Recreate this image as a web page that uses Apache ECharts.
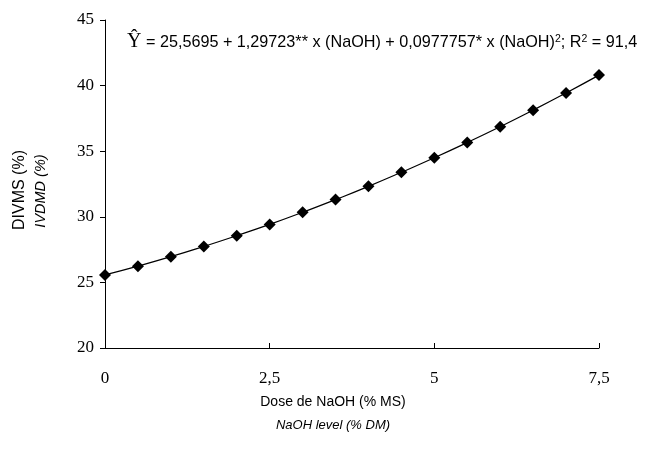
<!DOCTYPE html>
<html style="height: 100%">
<head>
    <meta charset="utf-8">
</head>
<body style="height: 100%; margin: 0; background: #fff">
    <div id="container" style="height: 100%"></div>
    <script type="text/javascript" src="https://cdn.jsdelivr.net/npm/echarts@6/dist/echarts.min.js"></script>
    <script type="text/javascript">
var doses = [0, 0.5, 1, 1.5, 2, 2.5, 3, 3.5, 4, 4.5, 5, 5.5, 6, 6.5, 7, 7.5];
var divms = [25.57, 26.24, 26.96, 27.74, 28.56, 29.42, 30.34, 31.31, 32.32, 33.39, 34.50, 35.66, 36.87, 38.13, 39.44, 40.80];
var xTicks = [0, 2.5, 5, 7.5];
var yTicks = [20, 25, 30, 35, 40, 45];

var dom = document.getElementById("container");
var myChart = echarts.init(dom);
var option = null;

var points = [];
for (var i = 0; i < doses.length; i++) {
    points.push([doses[i], divms[i]]);
}

var serif = '"Liberation Serif", "Times New Roman", serif';
var sans = '"Liberation Sans", Arial, sans-serif';

option = {
    backgroundColor: '#fff',
    animation: false,
    grid: {
        left: 105,
        right: 46,
        top: 20,
        bottom: 107
    },
    xAxis: {
        type: 'value',
        min: xTicks[0],
        max: xTicks[xTicks.length - 1],
        interval: 2.5,
        axisLine: { lineStyle: { color: '#000', width: 1 } },
        axisTick: { inside: true, length: 5, lineStyle: { color: '#000' } },
        splitLine: { show: false },
        axisLabel: {
            color: '#000',
            fontFamily: serif,
            fontSize: 17,
            margin: 22,
            formatter: function (v) { return String(v).replace('.', ','); }
        }
    },
    yAxis: {
        type: 'value',
        min: yTicks[0],
        max: yTicks[yTicks.length - 1],
        interval: 5,
        axisLine: { show: true, lineStyle: { color: '#000', width: 1 } },
        axisTick: { show: true, length: 5, lineStyle: { color: '#000' } },
        splitLine: { show: false },
        axisLabel: {
            color: '#000',
            fontFamily: serif,
            fontSize: 17,
            margin: 11
        }
    },
    graphic: [
        {
            type: 'text',
            left: 127,
            top: 32,
            style: {
                text: '{hat|Ŷ}{t| = 25,5695 + 1,29723** x (NaOH) + 0,0977757* x (NaOH)}{sup|2}{t|; R}{sup|2}{t| = 91,4}',
                rich: {
                    hat: { fontFamily: serif, fontSize: 20, fill: '#000', verticalAlign: 'bottom' },
                    t: { fontFamily: sans, fontSize: 16.2, fill: '#000', verticalAlign: 'bottom', padding: [0, 0, 1, 0] },
                    sup: { fontFamily: sans, fontSize: 10.5, fill: '#000', verticalAlign: 'bottom', padding: [0, 0, 7, 0] }
                }
            }
        },
        {
            type: 'text',
            x: 20,
            y: 190,
            rotation: Math.PI / 2,
            style: {
                text: 'DIVMS (%)',
                fontFamily: sans,
                fontSize: 16,
                fill: '#000',
                align: 'center',
                verticalAlign: 'middle'
            }
        },
        {
            type: 'text',
            x: 41,
            y: 191,
            rotation: Math.PI / 2,
            style: {
                text: 'IVDMD (%)',
                fontFamily: sans,
                fontStyle: 'italic',
                fontSize: 14.5,
                fill: '#000',
                align: 'center',
                verticalAlign: 'middle'
            }
        },
        {
            type: 'text',
            x: 333,
            y: 402,
            style: {
                text: 'Dose de NaOH (% MS)',
                fontFamily: sans,
                fontSize: 14,
                fill: '#000',
                align: 'center',
                verticalAlign: 'middle'
            }
        },
        {
            type: 'text',
            x: 333,
            y: 425,
            style: {
                text: 'NaOH level (% DM)',
                fontFamily: sans,
                fontStyle: 'italic',
                fontSize: 13,
                fill: '#000',
                align: 'center',
                verticalAlign: 'middle'
            }
        }
    ],
    series: [
        {
            name: 'DIVMS',
            type: 'line',
            data: points,
            smooth: true,
            symbol: 'diamond',
            symbolSize: 12,
            lineStyle: { color: '#000', width: 1.2 },
            itemStyle: { color: '#000' }
        }
    ]
};
if (option && typeof option === "object") {
    myChart.setOption(option, true);
}
    </script>
</body>
</html>
